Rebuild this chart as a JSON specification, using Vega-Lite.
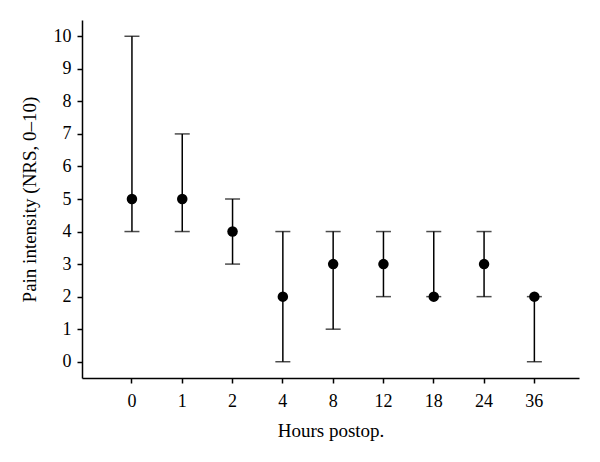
{
  "$schema": "https://vega.github.io/schema/vega-lite/v6.json",
  "width": 497,
  "height": 358,
  "autosize": {"type": "none"},
  "padding": {"left": 82, "top": 20, "right": 21, "bottom": 84},
  "background": "white",
  "config": {
    "view": {"stroke": null},
    "font": "Liberation Serif",
    "axis": {
      "domainColor": "black",
      "domainWidth": 1.5,
      "tickColor": "black",
      "tickWidth": 1.5,
      "tickSize": 5,
      "grid": false,
      "labelFont": "Liberation Serif",
      "titleFont": "Liberation Serif",
      "labelFontSize": 18,
      "titleFontSize": 19,
      "titleFontWeight": "normal",
      "labelColor": "black",
      "titleColor": "black",
      "labelOverlap": false
    }
  },
  "data": {
    "values": [
      {"hour": "0", "median": 5, "low": 4, "high": 10},
      {"hour": "1", "median": 5, "low": 4, "high": 7},
      {"hour": "2", "median": 4, "low": 3, "high": 5},
      {"hour": "4", "median": 2, "low": 0, "high": 4},
      {"hour": "8", "median": 3, "low": 1, "high": 4},
      {"hour": "12", "median": 3, "low": 2, "high": 4},
      {"hour": "18", "median": 2, "low": 2, "high": 4},
      {"hour": "24", "median": 3, "low": 2, "high": 4},
      {"hour": "36", "median": 2, "low": 0, "high": 2}
    ]
  },
  "encoding": {
    "x": {
      "field": "hour",
      "type": "ordinal",
      "sort": null,
      "scale": {"type": "band", "paddingInner": 0, "paddingOuter": 0.44, "align": 0.56},
      "axis": {"title": "Hours postop.", "labelAngle": 0, "labelPadding": 9, "titlePadding": 11, "bandPosition": 0.5}
    }
  },
  "resolve": {"axis": {"y": "independent"}},
  "layer": [
    {
      "mark": {"type": "errorbar", "ticks": {"size": 15, "thickness": 1.5, "color": "black"}, "rule": {"strokeWidth": 1.5, "color": "black"}},
      "encoding": {
        "y": {
          "field": "low",
          "type": "quantitative",
          "scale": {"domain": [-0.5, 10.5], "nice": false, "zero": false},
          "axis": {"title": "Pain intensity (NRS, 0–10)", "values": [0,1,2,3,4,5,6,7,8,9,10], "labelOverlap": false, "labelPadding": 6, "titlePadding": 14}
        },
        "y2": {"field": "high"}
      }
    },
    {
      "mark": {"type": "point", "filled": true, "color": "black", "size": 110, "opacity": 1},
      "encoding": {
        "y": {"field": "median", "type": "quantitative", "axis": null}
      }
    }
  ]
}
